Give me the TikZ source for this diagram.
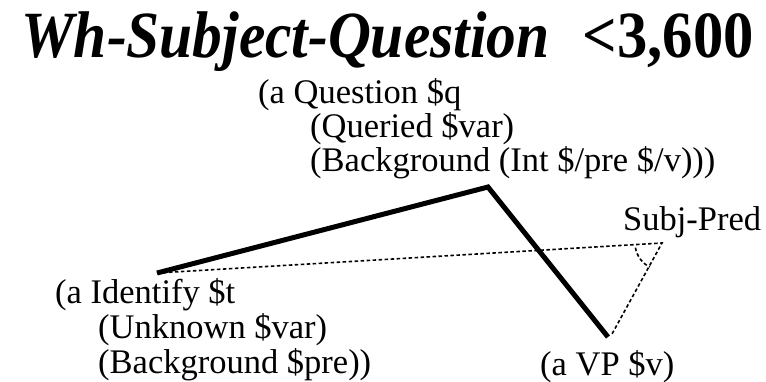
\documentclass[tikz,border=0pt]{standalone}
\usepackage{fontspec}
\setmainfont{Liberation Serif}
\begin{document}
\begin{tikzpicture}[x=1pt,y=1pt,
  txt/.style={inner sep=0pt, anchor=base west, font=\fontsize{34.5}{40}\selectfont},
  ttl/.style={inner sep=0pt, font=\fontsize{66}{72}\selectfont\bfseries, xscale=0.9},
  thickline/.style={line width=5pt, line cap=butt, line join=miter},
  dotline/.style={line width=1.6pt, dash pattern=on 3.5pt off 2.5pt}]
\useasboundingbox (0,0) rectangle (766,-381);
% title
\node[ttl, anchor=base west] (title) at (21,-57) {\itshape Wh-Subject-Question};
\node[ttl, anchor=base east, xscale=1.02] (count) at (754,-57) {<3,600};
% question
\node[txt] (q1) at (258,-103) {(a Question \$q};
\node[txt] (q2) at (310,-137) {(Queried \$var)};
\node[txt] (q3) at (310,-171) {(Background (Int \$/pre \$/v)))};
% identify
\node[txt] (i1) at (55,-303) {(a Identify \$t};
\node[txt] (i2) at (98,-338) {(Unknown \$var)};
\node[txt] (i3) at (98,-373) {(Background \$pre))};
% vp
\node[txt] (vp) at (540,-375) {(a VP \$v)};
% subj-pred
\node[txt] (sp) at (623,-230) {Subj-Pred};
% connector points
\coordinate (qt) at (488,-187);
\coordinate (it) at (157,-273);
\coordinate (vt) at (608,-337);
\coordinate (apex) at (662,-243);
\coordinate (vd) at (612,-334);
\draw[dotline] (it) -- (apex) -- (vd);
\draw[dotline] (apex) ++(190:27) arc[start angle=190, end angle=243, radius=27];
\draw[thickline] (it) -- (qt) -- (vt);
\end{tikzpicture}
\end{document}
